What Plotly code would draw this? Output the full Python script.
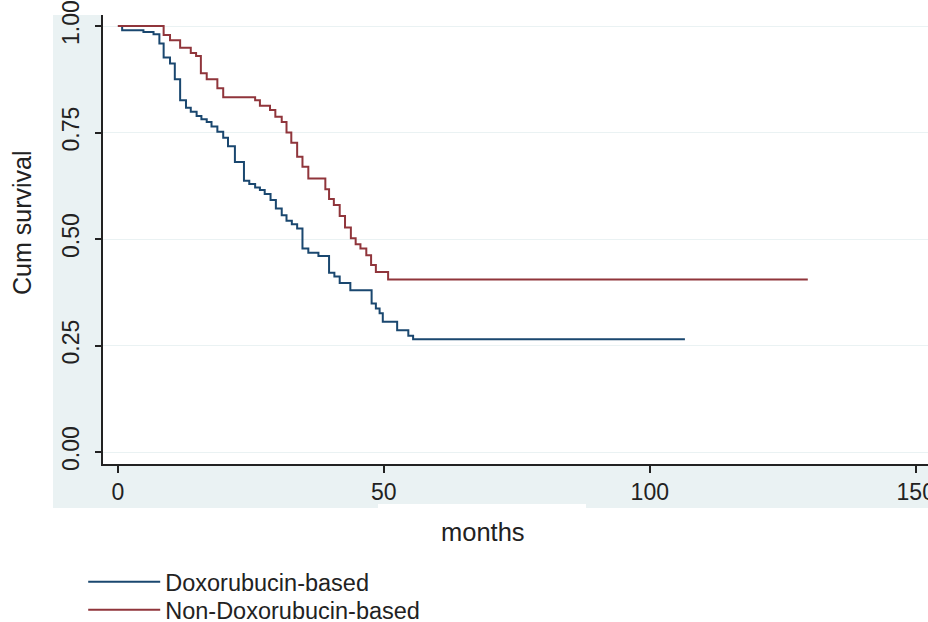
import plotly.graph_objects as go

# Kaplan-Meier step data (months, cumulative survival)
doxo_months = [0.0, 0.8, 4.8, 6.7, 7.8, 8.6, 9.8, 10.7, 11.7, 12.8, 13.7, 14.8, 15.7, 16.7,
               17.6, 18.7, 19.8, 20.7, 22.0, 23.7, 24.7, 25.8, 26.7, 27.6, 28.7, 29.7, 30.8,
               31.7, 32.7, 33.7, 34.7, 35.8, 37.7, 39.7, 40.7, 41.7, 43.7, 47.7, 48.5, 49.2,
               49.8, 52.5, 54.6, 55.5, 106.6]
doxo_surv = [1.0, 0.990, 0.986, 0.981, 0.959, 0.926, 0.912, 0.875, 0.826, 0.808, 0.799, 0.789,
             0.781, 0.775, 0.764, 0.752, 0.738, 0.718, 0.681, 0.637, 0.629, 0.621, 0.615, 0.606,
             0.592, 0.572, 0.556, 0.543, 0.535, 0.525, 0.478, 0.468, 0.460, 0.421, 0.412, 0.397,
             0.380, 0.349, 0.337, 0.326, 0.306, 0.286, 0.273, 0.265, 0.265]

nondoxo_months = [0.0, 8.6, 9.8, 11.7, 13.7, 14.7, 15.6, 16.7, 18.7, 19.8, 25.8, 26.7, 28.6,
                  29.6, 30.8, 31.7, 32.6, 33.7, 34.7, 35.8, 39.0, 39.7, 40.6, 41.7, 42.7, 43.8,
                  44.7, 45.6, 46.7, 47.6, 48.5, 50.8, 129.7]
nondoxo_surv = [1.0, 0.979, 0.967, 0.949, 0.937, 0.930, 0.889, 0.875, 0.854, 0.833, 0.826, 0.813,
                0.803, 0.787, 0.775, 0.750, 0.726, 0.693, 0.670, 0.642, 0.617, 0.594, 0.580,
                0.554, 0.527, 0.502, 0.488, 0.478, 0.462, 0.439, 0.423, 0.405, 0.405]

series_names = ["Doxorubucin-based", "Non-Doxorubucin-based"]
x_ticks = [0, 50, 100, 150]
y_ticks = [0.0, 0.25, 0.50, 0.75, 1.0]
y_tick_labels = ["0.00", "0.25", "0.50", "0.75", "1.00"]

BLUE = "#1a476f"
RED = "#90353b"
BG = "#eaf2f3"
FONT = "Liberation Sans, Arial, sans-serif"

fig = go.Figure()
fig.add_trace(go.Scatter(x=doxo_months, y=doxo_surv, mode="lines", line_shape="hv",
                         line=dict(color=BLUE, width=2), name=series_names[0],
                         legend="legend"))
fig.add_trace(go.Scatter(x=nondoxo_months, y=nondoxo_surv, mode="lines", line_shape="hv",
                         line=dict(color=RED, width=2), name=series_names[1],
                         legend="legend2"))

legend_common = dict(orientation="v", x=-0.024, xanchor="left", yanchor="top",
                     font=dict(size=23.5, color="#222"), bgcolor="rgba(0,0,0,0)",
                     itemwidth=72)

fig.update_layout(
    width=928, height=622,
    margin=dict(l=103, r=0, t=15, b=158, autoexpand=False),
    paper_bgcolor="white", plot_bgcolor="white",
    font=dict(family=FONT, color="#222", size=22),
    showlegend=True,
    legend=dict(y=(464 - 560) / 449, **legend_common),
    legend2=dict(y=(464 - 588) / 449, **legend_common),
    xaxis=dict(range=[-2.8, 152.3], tickvals=x_ticks, ticks="outside", ticklen=7,
               tickwidth=1.5, tickcolor="#222", showline=True, linecolor="#222", linewidth=1.5,
               showgrid=False, zeroline=False, tickfont=dict(size=23), ticklabelstandoff=0,
               ticklabeloverflow="allow"),
    yaxis=dict(range=[-0.028, 1.026], tickvals=y_ticks, ticktext=y_tick_labels,
               ticks="outside", ticklen=6, tickwidth=1.5, tickcolor="#222", showline=True,
               linecolor="#222", linewidth=1.5, showgrid=True, gridcolor=BG, gridwidth=1,
               zeroline=False, tickangle=-90, tickfont=dict(size=23), ticklabelstandoff=7),
    shapes=[
        dict(type="rect", xref="paper", yref="paper", x0=-0.0606, x1=1.01, y0=-0.098, y1=1.0,
             fillcolor=BG, line=dict(width=0), layer="below"),
        dict(type="rect", xref="paper", yref="paper", x0=0, x1=1.01, y0=0, y1=1.0,
             fillcolor="white", line=dict(width=0), layer="below"),
        dict(type="rect", xref="paper", yref="paper", x0=(378 - 103) / 825, x1=(586 - 103) / 825,
             y0=(464 - 512) / 449, y1=(464 - 504) / 449,
             fillcolor="white", line=dict(width=0), layer="below"),
    ],
    annotations=[
        dict(text="months", xref="paper", yref="paper", x=(483 - 103) / 825,
             y=(464 - 532) / 449, xanchor="center", yanchor="middle", showarrow=False,
             font=dict(size=25.5, color="#222")),
        dict(text="Cum survival", xref="paper", yref="paper", x=(22 - 103) / 825,
             y=(464 - 223) / 449, xanchor="center", yanchor="middle", showarrow=False,
             textangle=-90, font=dict(size=25, color="#222")),
    ],
)

fig.write_html("out.html", config={"displayModeBar": False},
               post_script="document.body.style.margin='0';document.body.style.overflow='hidden';")
